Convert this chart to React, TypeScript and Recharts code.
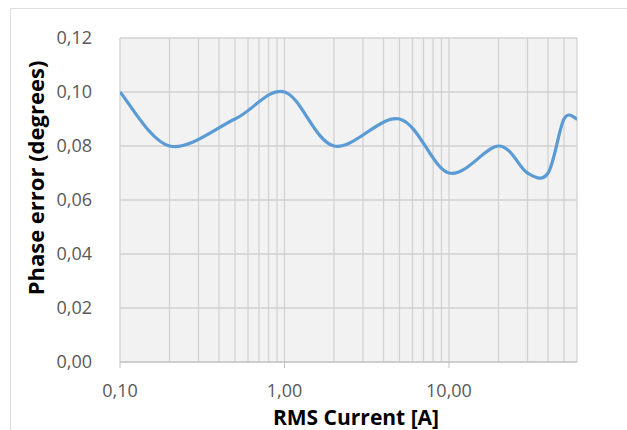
import React from 'react';
import { LineChart, Line, XAxis, YAxis, CartesianGrid } from 'recharts';

const currents = [0.1, 0.2, 0.5, 1, 2, 5, 10, 20, 30, 40, 50, 60];
const phaseErrors = [0.1, 0.08, 0.09, 0.1, 0.08, 0.09, 0.07, 0.08, 0.07, 0.07, 0.09, 0.09];
const xMajorTicks = [0.1, 1, 10];
const xMinorTicks = [0.1, 0.2, 0.3, 0.4, 0.5, 0.6, 0.7, 0.8, 0.9, 1, 2, 3, 4, 5, 6, 7, 8, 9, 10, 20, 30, 40, 50, 60];
const yTicks = [0, 0.02, 0.04, 0.06, 0.08, 0.1, 0.12];

const data = currents.map((c, i) => ({ x: c, y: phaseErrors[i] }));

// Excel-like smoothing (Catmull-Rom style bezier)
function excelCurve(context: any) {
  let pts: number[][] = [];
  return {
    areaStart() {},
    areaEnd() {},
    lineStart() {
      pts = [];
    },
    lineEnd() {
      const n = pts.length;
      if (!n) return;
      context.moveTo(pts[0][0], pts[0][1]);
      for (let i = 0; i < n - 1; i++) {
        const p0 = pts[i - 1] || pts[i];
        const p1 = pts[i];
        const p2 = pts[i + 1];
        const p3 = pts[i + 2] || pts[i + 1];
        context.bezierCurveTo(
          p1[0] + (p2[0] - p0[0]) / 6,
          p1[1] + (p2[1] - p0[1]) / 6,
          p2[0] - (p3[0] - p1[0]) / 6,
          p2[1] - (p3[1] - p1[1]) / 6,
          p2[0],
          p2[1]
        );
      }
    },
    point(x: number, y: number) {
      pts.push([+x, +y]);
    },
  };
}

const fmt = (v: number) => v.toFixed(2).replace('.', ',');

export default function App() {
  return (
    <div style={{ position: 'fixed', left: 0, top: 0, width: 627, height: 430, overflow: 'hidden', background: '#fff' }}>
      <div style={{ position: 'absolute', left: 10, top: 8, width: 700, height: 500, border: '1.5px solid #dedede' }} />
      <div style={{ position: 'absolute', left: 0, top: 0 }}>
        <LineChart width={627} height={430} data={data} margin={{ top: 38, right: 50, bottom: 28, left: 30 }}>
          <CartesianGrid xAxisId="grid" stroke="#d2d2d2" strokeWidth={1.3} fill="#f2f2f2" />
          <XAxis
            xAxisId="grid"
            dataKey="x"
            type="number"
            scale="log"
            domain={[0.1, 60]}
            ticks={xMinorTicks}
            interval={0}
            hide
            allowDataOverflow
          />
          <XAxis
            dataKey="x"
            type="number"
            scale="log"
            domain={[0.1, 60]}
            ticks={xMajorTicks}
            interval={0}
            tickFormatter={fmt}
            height={40}
            stroke="#bfbfbf"
            tickSize={6}
            tick={{ fill: '#595959', fontSize: 18, fontFamily: 'Open Sans' }}
            tickMargin={16}
            allowDataOverflow
          />
          <YAxis
            type="number"
            domain={[0, 0.12]}
            ticks={yTicks}
            interval={0}
            tickFormatter={fmt}
            width={90}
            axisLine={false}
            tickLine={false}
            tick={{ fill: '#595959', fontSize: 18, fontFamily: 'Open Sans' }}
            tickMargin={22}
          />
          <Line
            dataKey="y"
            type={excelCurve as any}
            stroke="#5b9bd5"
            strokeWidth={3.2}
            dot={false}
            isAnimationActive={false}
          />
        </LineChart>
      </div>
      <div
        style={{
          position: 'absolute',
          left: 35,
          top: 178,
          transform: 'translate(-50%, -50%) rotate(-90deg)',
          whiteSpace: 'nowrap',
          fontFamily: 'Open Sans',
          fontWeight: 700,
          fontSize: 22,
          lineHeight: '24px',
          color: '#000',
        }}
      >
        Phase error (degrees)
      </div>
      <div
        style={{
          position: 'absolute',
          left: 356,
          top: 417,
          transform: 'translate(-50%, -50%)',
          whiteSpace: 'nowrap',
          fontFamily: 'Open Sans',
          fontWeight: 700,
          fontSize: 21,
          lineHeight: '18px',
          color: '#000',
        }}
      >
        RMS Current [A]
      </div>
    </div>
  );
}
